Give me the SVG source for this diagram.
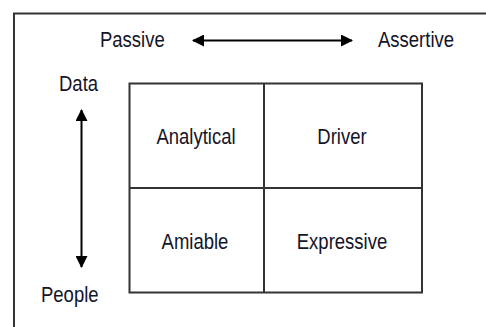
<svg xmlns="http://www.w3.org/2000/svg" width="486" height="327" viewBox="0 0 486 327">
<defs>
<style>
.t{font-family:"Liberation Sans",Arial,sans-serif;font-size:18.5px;fill:#141428}
.c{text-anchor:middle}
.ln{stroke:#333;stroke-width:2;fill:none}
.ar{stroke:#000;stroke-width:2;fill:none}
</style>
<marker id="ah" viewBox="0 0 12 12" refX="11" refY="6" markerWidth="12" markerHeight="12" markerUnits="userSpaceOnUse" orient="auto-start-reverse">
<path d="M0,0 L12,6 L0,12 Z" fill="#000"/>
</marker>
</defs>
<rect width="486" height="327" fill="#fff"/>
<path id="frame" d="M14,330 L14,13.5 L490,13.5" stroke="#333" stroke-width="2" fill="none"/>
<g id="connectors">
<line class="ar" x1="193" y1="40.5" x2="352" y2="40.5" marker-start="url(#ah)" marker-end="url(#ah)"/>
<line class="ar" x1="81.5" y1="110" x2="81.5" y2="267" marker-start="url(#ah)" marker-end="url(#ah)"/>
</g>
<g id="grid">
<rect class="ln" x="129.5" y="83.5" width="292.5" height="209"/>
<line class="ln" x1="264" y1="83.5" x2="264" y2="292.5"/>
<line class="ln" x1="129.5" y1="188" x2="422" y2="188"/>
</g>
<g id="passive"><text class="t" transform="translate(100,47) scale(1,1.2)">Passive</text></g>
<g id="assertive"><text class="t" transform="translate(378,47) scale(1,1.2)">Assertive</text></g>
<g id="data"><text class="t" transform="translate(59,91) scale(1,1.2)">Data</text></g>
<g id="people"><text class="t" transform="translate(41,301.5) scale(1,1.2)">People</text></g>
<g id="analytical"><text class="t c" transform="translate(196,144) scale(1,1.2)">Analytical</text></g>
<g id="driver"><text class="t c" transform="translate(342,144) scale(1,1.2)">Driver</text></g>
<g id="amiable"><text class="t c" transform="translate(195,248.5) scale(1,1.2)">Amiable</text></g>
<g id="expressive"><text class="t c" transform="translate(342,248.5) scale(1,1.2)">Expressive</text></g>
</svg>
